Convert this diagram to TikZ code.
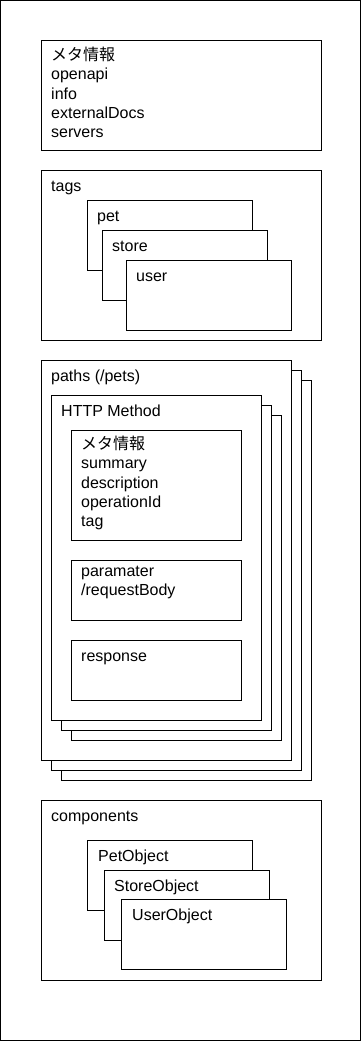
\documentclass[tikz,border=0pt]{standalone}
\usepackage{fontspec}
\setmainfont{Liberation Sans}
\newfontfamily\jpfont{Noto Sans CJK JP}
\usetikzlibrary{positioning, calc}
\definecolor{ink}{HTML}{000000}
\tikzset{
  font=\fontsize{16}{19.2}\selectfont,
  %
  panel/.style={
    draw=ink, line width=1pt, fill=white, rectangle,
    anchor=north west, inner sep=0pt, outer sep=0pt,
  },
  sect/.style={panel, minimum width=280pt},
  card/.style={panel, minimum width=165pt, minimum height=70pt},
  inner/.style={panel, minimum width=170pt},
  %
  % first baseline sits 15pt below the node top
  txt/.style={anchor=north west, inner sep=0pt, align=left, text=ink,
    execute at begin node={\rule{0pt}{15pt}}},
}

\begin{document}
\begin{tikzpicture}[x=1pt, y=-1pt]
\useasboundingbox (0,0) rectangle (362,1041);
\draw[draw=ink, line width=1pt] (0.5,0.5) rectangle (360.8,1040.3);

% =========================================================================
% meta
% =========================================================================
\node[sect, minimum height=109pt] (meta) at (41,41) {};
\node[txt] (metatxt) at ([shift={(10,6)}]meta.north west)
  {{\jpfont メタ情報}\\openapi\\info\\externalDocs\\servers};

% =========================================================================
% tags
% =========================================================================
\node[sect, minimum height=170pt] (tags) at (41,170) {};
\node[txt] (tagstxt) at ([shift={(10,6)}]tags.north west) {tags};

\node[card] (pet) at (87,200) {};
\node[txt] at ([shift={(10,6)}]pet.north west) {pet};
\node[card] (store) at (102,230) {};
\node[txt] at ([shift={(10,6)}]store.north west) {store};
\node[card] (user) at (126,260) {};
\node[txt] at ([shift={(10,6)}]user.north west) {user};

% =========================================================================
% paths
% =========================================================================
\foreach \d in {20,10}
  \node[panel, minimum width=250pt, minimum height=400pt]
    (paths\d) at ({41+\d},{360+\d}) {};
\node[panel, minimum width=250pt, minimum height=400pt] (paths) at (41,360) {};
\node[txt] (pathstxt) at ([shift={(10,6)}]paths.north west) {paths (/pets)};

\foreach \d in {20,10}
  \node[panel, minimum width=210pt, minimum height=325pt]
    (http\d) at ({51+\d},{395+\d}) {};
\node[panel, minimum width=210pt, minimum height=325pt] (http) at (51,395) {};
\node[txt] (httptxt) at ([shift={(10,6)}]http.north west) {HTTP Method};

\node[inner, minimum height=110pt] (opmeta) at (71,430) {};
\node[txt] (opmetatxt) at ([shift={(10,6)}]opmeta.north west)
  {{\jpfont メタ情報}\\summary\\description\\operationId\\tag};

\node[inner, minimum height=60pt] (param) at (71,560) {};
\node[txt] (paramtxt) at ([shift={(10,6)}]param.north west)
  {paramater\\/requestBody};

\node[inner, minimum height=60pt] (resp) at (71,640) {};
\node[txt] (resptxt) at ([shift={(10,6)}]resp.north west) {response};

% =========================================================================
% components
% =========================================================================
\node[sect, minimum height=180pt] (comp) at (41,800) {};
\node[txt] (comptxt) at ([shift={(10,6)}]comp.north west) {components};

\node[card] (petobj) at (87,840) {};
\node[txt] at ([shift={(11,6)}]petobj.north west) {PetObject};
\node[card] (storeobj) at (104,870) {};
\node[txt] at ([shift={(10,6)}]storeobj.north west) {StoreObject};
\node[card] (userobj) at (121,899.5) {};
\node[txt] at ([shift={(11,6)}]userobj.north west) {UserObject};

\end{tikzpicture}
\end{document}
